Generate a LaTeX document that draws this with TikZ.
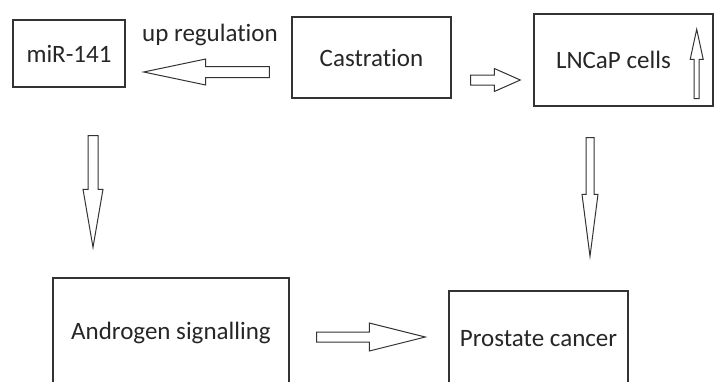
\documentclass[tikz,border=0pt]{standalone}
\usepackage{fontspec}
\setmainfont{Carlito}[Ligatures={NoCommon}]
\usetikzlibrary{calc}
\tikzset{
	box/.style={draw=black!80, line width=1.4pt, inner sep=0pt, text=black!85, font=\fontsize{25}{30}\selectfont},
	ba shaft/.store in=\bashaft, ba shaft=5pt,
	ba head/.store in=\bahead, ba head=12pt,
	ba len/.store in=\balen, ba len=58pt,
	blockarrow/.style={draw=black!80, line width=1pt, line join=miter, to path={
		($(\tikztotarget)!\balen!(\tikztostart)$) coordinate (bahb)
		($(\tikztostart)!\bashaft!90:(\tikztotarget)$) -- ($(bahb)!\bashaft!-90:(\tikztostart)$) -- ($(bahb)!\bahead!-90:(\tikztostart)$) -- (\tikztotarget) -- ($(bahb)!\bahead!90:(\tikztostart)$) -- ($(bahb)!\bashaft!90:(\tikztostart)$) -- ($(\tikztostart)!\bashaft!-90:(\tikztotarget)$) -- cycle}}
}
\begin{document}
\begin{tikzpicture}[x=1pt,y=-1pt]
		%\draw [help lines] (0,0) grid[step=50] (727,381);
		\useasboundingbox (0,0) rectangle (727,381);
		\node[box, minimum width=112pt, minimum height=67pt] (mir) at (69,53.5){miR-141};
		\node[box, minimum width=159pt, minimum height=81pt] (cast) at (371.5,57.5){Castration};
		\node[box, minimum width=179pt, minimum height=92pt, text width=135pt, inner xsep=22pt, align=flush left] (lncap) at (623.5,60){LNCaP cells};
		\node[box, minimum width=236pt, minimum height=110pt] (andro) at (171,333){Androgen signalling};
		\node[box, minimum width=179pt, minimum height=96pt] (prost) at (538.5,339){Prostate cancer};
		\node[text=black!85, font=\fontsize{25}{30}\selectfont] (upreg) at (210,35){up regulation};

		\coordinate (upS) at ($(cast.west)+(-22,14.5)$);
		\coordinate (upE) at ($(mir.east)+(18,18.5)$);
		\draw[blockarrow, ba shaft=5.5pt, ba head=13pt, ba len=62pt] (upS) to (upE);
		\coordinate (lnS) at ($(cast.east)+(19,22.5)$);
		\coordinate (lnE) at ($(lncap.west)+(-13,20)$);
		\draw[blockarrow, ba shaft=5pt, ba head=11.5pt, ba len=26pt] (lnS) to (lnE);
		\coordinate (inS) at ($(lncap.south east)+(-17,-8)$);
		\coordinate (inE) at ($(lncap.north east)+(-17,16)$);
		\draw[blockarrow, ba shaft=2.5pt, ba head=6.5pt, ba len=30pt] (inS) to (inE);
		\coordinate (anS) at ($(mir.south)+(24,48)$);
		\coordinate (anE) at ($(andro.north)+(-78,-30)$);
		\draw[blockarrow, ba shaft=5pt, ba head=10pt, ba len=58pt] (anS) to (anE);
		\coordinate (prS) at ($(lncap.south)+(-33.5,31)$);
		\coordinate (prE) at ($(prost.north)+(51.5,-34)$);
		\draw[blockarrow, ba shaft=4pt, ba head=8pt, ba len=62pt] (prS) to (prE);
		\coordinate (apS) at ($(andro.east)+(27,4)$);
		\coordinate (apE) at ($(prost.west)+(-23,-2)$);
		\draw[blockarrow, ba shaft=5pt, ba head=14pt, ba len=56pt] (apS) to (apE);
\end{tikzpicture}
\end{document}
